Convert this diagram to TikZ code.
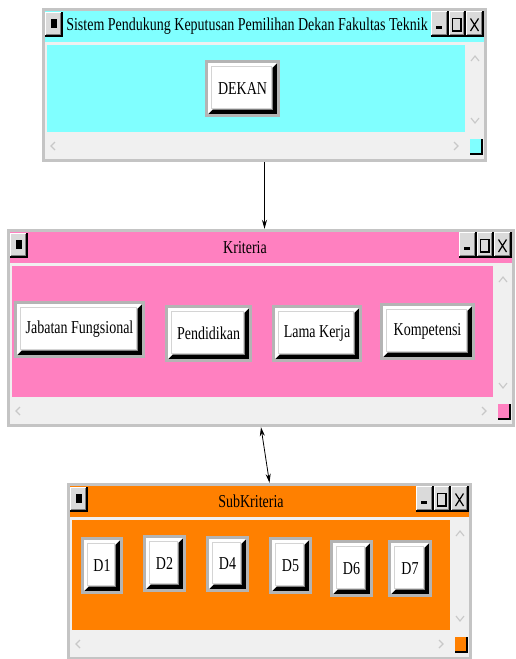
\documentclass[tikz,border=0pt]{standalone}
\usepackage{fontspec}
\setmainfont{Liberation Serif}
\usetikzlibrary{fit,arrows.meta}
\definecolor{wincyan}{HTML}{80FFFF}
\definecolor{winpink}{HTML}{FF80C0}
\definecolor{winorange}{HTML}{FF8000}
\definecolor{winborder}{HTML}{C4C4C4}
\definecolor{scrollbg}{HTML}{F0F0F0}
\definecolor{btnborder}{HTML}{B4B4B4}
\definecolor{chev}{HTML}{C8C8C8}
\definecolor{tbface}{HTML}{DADADA}
\definecolor{facegray}{HTML}{D4D4D4}

\newcommand\wtxt[1]{\scalebox{1}[1.3]{\fontsize{14}{16}\selectfont #1}}

% title bar button: x1 y1 x2 y2
\newcommand\titlebtn[4]{%
  \fill[black] (#1,#2) rectangle (#3,#4);
  \fill[tbface] (#1,#2) rectangle (#3-1.6,#4-1.6);
  \draw[white,line width=0.8pt] (#1+0.5,#4-2) -- (#1+0.5,#2+0.5) -- (#3-2,#2+0.5);
  \draw[gray,line width=0.7pt] (#1+1.2,#4-2.2) -- (#3-2.2,#4-2.2) -- (#3-2.2,#2+1.2);
}

% window: name L T R B colour
\newcommand\guiwin[6]{%
  \fill[winborder] (#2,#3) rectangle (#4,#5);
  \fill[#6] (#2+3,#3+3) rectangle (#4-3,#3+34);
  \fill[scrollbg] (#2+3,#3+34) rectangle (#4-3,#5-3);
  \fill[#6] (#2+5,#3+37) rectangle (#4-22,#5-30);
  % scroll chevrons
  \draw[chev,line width=1.1pt] (#4-16,#3+53) -- (#4-12,#3+48) -- (#4-8,#3+53);
  \draw[chev,line width=1.1pt] (#4-16,#5-44) -- (#4-12,#5-39) -- (#4-8,#5-44);
  \draw[chev,line width=1.1pt] (#2+13,#5-20) -- (#2+9,#5-16) -- (#2+13,#5-12);
  \draw[chev,line width=1.1pt] (#4-33,#5-20) -- (#4-29,#5-16) -- (#4-33,#5-12);
  % corner square
  \fill[black] (#4-17,#5-23) rectangle (#4-4,#5-7);
  \fill[#6] (#4-17,#5-23) rectangle (#4-5.6,#5-8.6);
  % left system button
  \titlebtn{#2+3}{#3+4}{#2+21}{#3+29}
  \fill[black] (#2+8.5,#3+11) rectangle (#2+14.5,#3+20);
  % minimise / maximise / close
  \titlebtn{#4-56}{#3+3}{#4-38.5}{#3+29}
  \titlebtn{#4-38.5}{#3+3}{#4-21}{#3+29}
  \titlebtn{#4-21}{#3+3}{#4-3}{#3+29}
  \fill[black] (#4-51,#3+18) rectangle (#4-45,#3+21);
  \draw[black,line width=1.3pt] (#4-34.5,#3+10.5) rectangle (#4-26,#3+23);
  \draw[black,line width=1.2pt] (#4-16.5,#3+10.5) -- (#4-8.5,#3+23) (#4-8.5,#3+10.5) -- (#4-16.5,#3+23);
  \node[inner sep=0,fit={(#2,#3) (#4,#5)}] (#1) {};
}

% button: name x1 y1 x2 y2 text
\newcommand\wbutton[6]{%
  \fill[btnborder] (#2,#3) rectangle (#4,#5);
  \fill[black] (#2+3,#3+3) rectangle (#4-3,#5-3);
  \fill[white] (#2+3,#3+3) -- (#4-3,#3+3) -- (#4-8,#3+8) -- (#4-8,#5-8) -- (#2+8,#5-8) -- (#2+3,#5-3) -- cycle;
  \draw[gray,line width=0.7pt] (#4-8,#3+8) -- (#4-8,#5-8) -- (#2+8,#5-8);
  \draw[facegray,line width=1.2pt,fill=white] (#2+6.5,#3+6.5) rectangle (#4-8.8,#5-8.8);
  \node[inner sep=0] (#1) at ({(#2+#4)/2},{(#3+#5)/2}) {\wtxt{#6}};
}

\tikzset{
  link/.style={line width=0.8pt},
  tip/.tip={Stealth[length=9pt,width=5pt]}
}

\begin{document}
\begin{tikzpicture}[x=1pt,y=-1pt]
\useasboundingbox (0,0) rectangle (515,659);
\clip (0,0) rectangle (515,659);
\fill[white] (0,0) rectangle (515,659);

% window 1
\guiwin{w1}{42}{8}{487}{162}{wincyan}
\node[inner sep=0] (t1) at (247,26) {\wtxt{Sistem Pendukung Keputusan Pemilihan Dekan Fakultas Teknik}};
\wbutton{dekan}{205}{60}{280}{117}{DEKAN}

% window 2
\guiwin{w2}{7}{229}{515}{427}{winpink}
\node[inner sep=0] (t2) at (245,248) {\wtxt{Kriteria}};
\wbutton{jf}{14}{301}{145}{358}{Jabatan Fungsional}
\wbutton{pend}{165}{305}{252}{362}{Pendidikan}
\wbutton{lk}{272}{305}{362}{362}{Lama Kerja}
\wbutton{komp}{380}{303}{475}{360}{Kompetensi}

% window 3
\guiwin{w3}{67}{483}{472}{660}{winorange}
\node[inner sep=0] (t3) at (251,501) {\wtxt{SubKriteria}};
\wbutton{d1}{81}{537}{123}{594}{D1}
\wbutton{d2}{143}{535}{186}{592}{D2}
\wbutton{d4}{206}{536}{249}{592}{D4}
\wbutton{d5}{269}{537}{312}{594}{D5}
\wbutton{d6}{330}{540}{373}{597}{D6}
\wbutton{d7}{388}{540}{432}{597}{D7}

% connectors
\draw[link,-tip] (w1.south) -- (w1.south |- w2.north);
\draw[link,tip-tip] (w2.south) -- (w3.north);
\end{tikzpicture}
\end{document}
